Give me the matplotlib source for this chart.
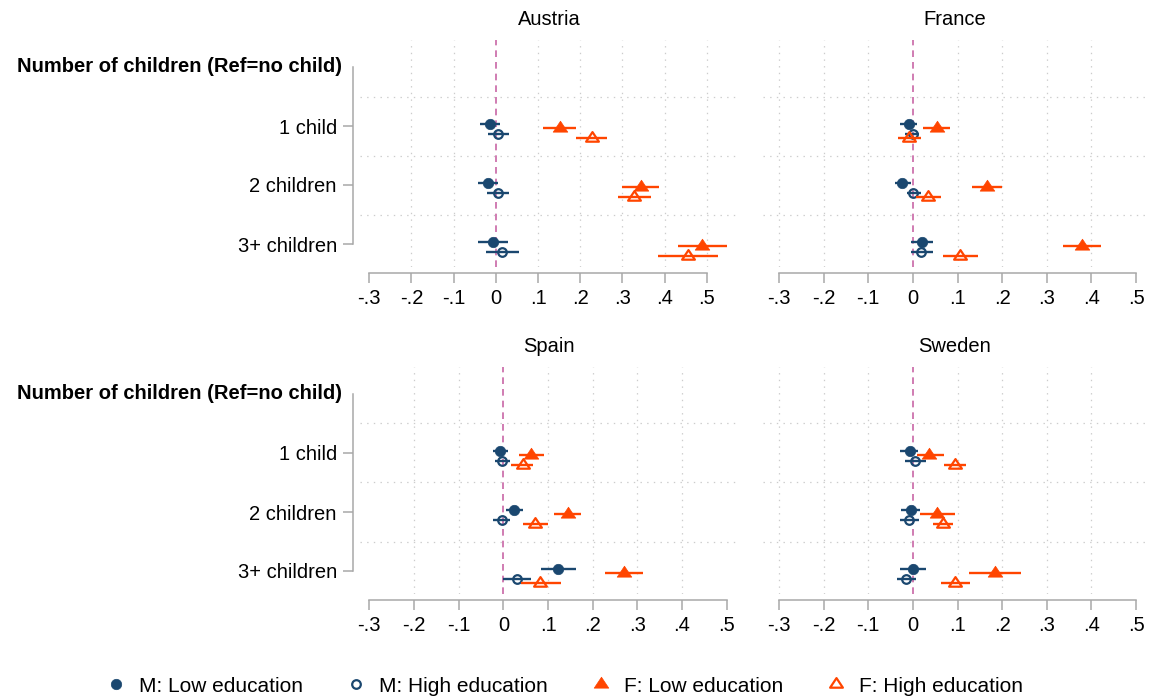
import matplotlib
matplotlib.use("Agg")
import matplotlib.pyplot as plt
from matplotlib.path import Path
from matplotlib.lines import Line2D

plt.rcParams["font.family"] = ["Liberation Sans", "DejaVu Sans"]
plt.rcParams["lines.scale_dashes"] = False

# ---------------------------------------------------------------------------
# Data: coefficient estimates and 95% CI bounds.
# Each array holds four series (M low, M high, F low, F high) x three rows
# (1 child, 2 children, 3+ children).
# ---------------------------------------------------------------------------
series_labels = ["M: Low education", "M: High education",
                 "F: Low education", "F: High education"]
row_labels = ["1 child", "2 children", "3+ children"]
header_label = "Number of children (Ref=no child)"
x_ticks = [-0.3, -0.2, -0.1, 0.0, 0.1, 0.2, 0.3, 0.4, 0.5]
x_tick_labels = ["-.3", "-.2", "-.1", "0", ".1", ".2", ".3", ".4", ".5"]

austria_est = [[-0.014, -0.018, -0.006],
               [0.006, 0.004, 0.015],
               [0.152, 0.344, 0.489],
               [0.227, 0.327, 0.455]]
austria_lo = [[-0.038, -0.042, -0.043],
              [-0.019, -0.022, -0.024],
              [0.112, 0.300, 0.432],
              [0.190, 0.289, 0.384]]
austria_hi = [[0.009, 0.006, 0.029],
              [0.032, 0.032, 0.054],
              [0.191, 0.388, 0.548],
              [0.264, 0.367, 0.526]]

france_est = [[-0.009, -0.024, 0.020],
              [0.000, 0.001, 0.018],
              [0.053, 0.167, 0.378],
              [-0.008, 0.033, 0.106]]
france_lo = [[-0.029, -0.040, -0.004],
             [-0.018, -0.014, -0.005],
             [0.023, 0.133, 0.337],
             [-0.033, 0.006, 0.067]]
france_hi = [[0.010, -0.005, 0.046],
             [0.014, 0.018, 0.044],
             [0.083, 0.200, 0.421],
             [0.018, 0.062, 0.145]]

spain_est = [[-0.007, 0.023, 0.122],
             [-0.002, -0.003, 0.030],
             [0.063, 0.144, 0.270],
             [0.043, 0.072, 0.083]]
spain_lo = [[-0.024, 0.005, 0.084],
            [-0.019, -0.022, 0.000],
            [0.036, 0.114, 0.228],
            [0.018, 0.045, 0.040]]
spain_hi = [[0.011, 0.044, 0.162],
            [0.016, 0.016, 0.062],
            [0.092, 0.174, 0.313],
            [0.067, 0.099, 0.129]]

sweden_est = [[-0.006, -0.005, 0.000],
              [0.005, -0.008, -0.016],
              [0.037, 0.055, 0.184],
              [0.094, 0.067, 0.095]]
sweden_lo = [[-0.028, -0.027, -0.029],
             [-0.018, -0.029, -0.036],
             [0.009, 0.017, 0.126],
             [0.069, 0.045, 0.063]]
sweden_hi = [[0.012, 0.016, 0.030],
              [0.029, 0.014, 0.008],
              [0.070, 0.094, 0.242],
              [0.118, 0.091, 0.127]]

# ---------------------------------------------------------------------------
# Styling
# ---------------------------------------------------------------------------
W, H, DPI = 1150, 696, 100
FS = 14.5
LEGEND_FS = 15
NAVY = "#1a476f"
ORANGE = "#ff4500"
GRID = "#cccccc"
AXIS = "#a8a8a8"
ZERO = "#d07cb2"

# wide Stata-like triangle, centred on its centroid
TRI = Path([(0, 1), (-1, -0.5), (1, -0.5), (0, 1)],
           [Path.MOVETO, Path.LINETO, Path.LINETO, Path.CLOSEPOLY])

styles = [
    dict(color=NAVY, marker="o", ms=7.5, mfc=NAVY, mew=0.5, offset=-0.03),
    dict(color=NAVY, marker="o", ms=6.2, mfc="none", mew=1.6, offset=0.13),
    dict(color=ORANGE, marker=TRI, ms=10.5, mfc=ORANGE, mew=0.5, offset=0.03),
    dict(color=ORANGE, marker=TRI, ms=9.2, mfc="none", mew=1.6, offset=0.20),
]

fig = plt.figure(figsize=(W / DPI, H / DPI), dpi=DPI)


def make_axes(x0, x1, y0, y1):
    return fig.add_axes([x0 / W, 1 - y1 / H, (x1 - x0) / W, (y1 - y0) / H])


# name, data, plot region (px), pixel position of -.3 and .5, show y labels
panels = [
    ("Austria", austria_est, austria_lo, austria_hi, (360, 738, 40, 267), (369.3, 706.7), True),
    ("France", france_est, france_lo, france_hi, (763, 1147, 40, 267), (779.0, 1136.0), False),
    ("Spain", spain_est, spain_lo, spain_hi, (360, 738, 367, 594), (369.3, 726.7), True),
    ("Sweden", sweden_est, sweden_lo, sweden_hi, (763, 1147, 367, 594), (779.0, 1136.0), False),
]

ROW_PX = 59.0
HEADER_PX_FROM_TOP = 27.0
LAST_ROW_PX_FROM_BOTTOM = 23.0

for name, est, lo, hi, (x0, x1, y0, y1), (p_lo, p_hi), show_y in panels:
    ax = make_axes(x0, x1, y0, y1)
    scale = (p_hi - p_lo) / 0.8
    xlo = -0.3 - (p_lo - x0) / scale
    xhi = 0.5 + (x1 - p_hi) / scale
    ax.set_xlim(xlo, xhi)
    ax.set_ylim(3 + LAST_ROW_PX_FROM_BOTTOM / ROW_PX, -HEADER_PX_FROM_TOP / ROW_PX)

    # dotted grid
    for t in x_ticks:
        if t != 0 and xlo + 0.03 < t < xhi - 0.03:
            ax.axvline(t, color=GRID, lw=0.9, ls=(0, (1.0, 3.8)), zorder=0)
    for yb in (0.5, 1.5, 2.5):
        ax.axhline(yb, color=GRID, lw=0.9, ls=(0, (1.0, 3.8)), zorder=0)
    ax.axvline(0, color=ZERO, lw=1.4, ls=(0, (4.8, 3.6)), zorder=1)

    # estimates with confidence intervals
    for s, st in enumerate(styles):
        ys = [r + 1 + st["offset"] for r in range(len(row_labels))]
        ax.hlines(ys, lo[s], hi[s], color=st["color"], lw=1.7, zorder=2 + s)
        ax.plot(est[s], ys, linestyle="none", marker=st["marker"], ms=st["ms"],
                mfc=st["mfc"], mec=st["color"], mew=st["mew"], zorder=2.5 + s)

    # axes
    for side in ("top", "right"):
        ax.spines[side].set_visible(False)
    ax.spines["bottom"].set_position(("outward", 4.3))
    ax.spines["bottom"].set_bounds(-0.3, 0.5)
    ax.spines["bottom"].set_color(AXIS)
    ax.spines["bottom"].set_linewidth(1.1)
    ax.set_xticks(x_ticks)
    ax.set_xticklabels(x_tick_labels)
    ax.tick_params(axis="x", length=7.2, width=1.1, color=AXIS, pad=4.0,
                   labelsize=FS, labelcolor="black")

    if show_y:
        ax.spines["left"].set_position(("outward", 5.0))
        ax.spines["left"].set_bounds(0, 3)
        ax.spines["left"].set_color(AXIS)
        ax.spines["left"].set_linewidth(1.1)
        ax.set_yticks([1, 2, 3])
        ax.set_yticklabels(row_labels)
        ax.tick_params(axis="y", length=7.2, width=1.1, color=AXIS, pad=4.5,
                       labelsize=FS, labelcolor="black")
        ax.annotate(header_label, xy=(0, 0), xycoords=("axes fraction", "data"),
                    xytext=(-13.2, 0), textcoords="offset points",
                    ha="right", va="center", fontsize=FS, fontweight="bold")
    else:
        ax.spines["left"].set_visible(False)
        ax.set_yticks([])

    ax.annotate(name, xy=(0.5, 1), xycoords="axes fraction", xytext=(0, 10.8),
                textcoords="offset points", ha="center", va="baseline", fontsize=FS)

# legend
handles = [Line2D([], [], linestyle="none", marker=st["marker"], ms=st["ms"],
                  mfc=st["mfc"], mec=st["color"], mew=st["mew"]) for st in styles]
fig.legend(handles, series_labels, loc="center", ncol=4, frameon=False,
           bbox_to_anchor=(564.4 / W, 1 - 686 / H), fontsize=LEGEND_FS,
           handlelength=1.0, handletextpad=0.6, columnspacing=2.05,
           borderpad=0, borderaxespad=0)

fig.savefig("out.png", dpi=DPI)
